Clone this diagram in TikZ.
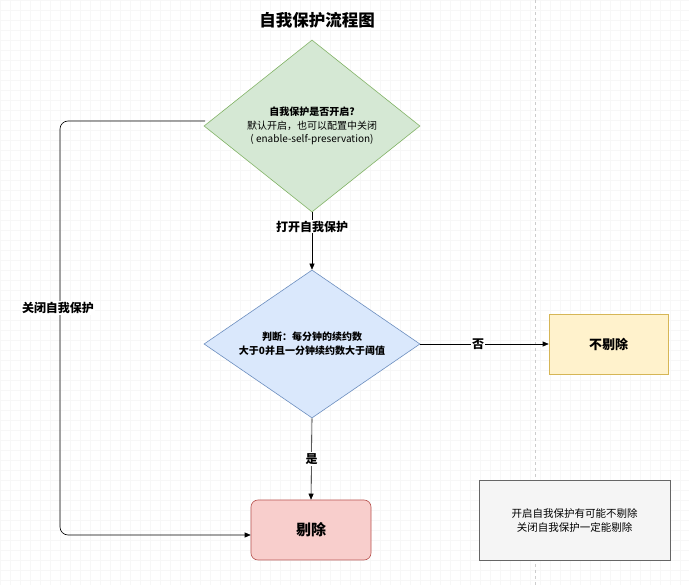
\documentclass[tikz,border=0pt]{standalone}
\usepackage{fontspec}
\setmainfont{Noto Sans CJK SC}
\usetikzlibrary{shapes.geometric,arrows.meta}
\definecolor{gfill}{HTML}{D5E8D4}\definecolor{gline}{HTML}{82B366}
\definecolor{bfill}{HTML}{DAE8FC}\definecolor{bline}{HTML}{6C8EBF}
\definecolor{yfill}{HTML}{FFF2CC}\definecolor{yline}{HTML}{D6B656}
\definecolor{rfill}{HTML}{F8CECC}\definecolor{rline}{HTML}{B85450}
\definecolor{nfill}{HTML}{F5F5F5}\definecolor{nline}{HTML}{666666}
\tikzset{
 dia/.style={diamond,aspect=1.26,inner sep=0pt,align=center,font=\fontsize{10}{13.5}\selectfont,line width=0.6pt},
 box/.style={minimum width=120pt,minimum height=60pt,align=center,line width=0.6pt},
 arr/.style={-{Triangle[length=6pt,width=5pt]},line width=0.6pt},
 lbl/.style={fill=white,font=\fontsize{12}{14}\selectfont\bfseries,inner sep=1pt}
}
\begin{document}
\begin{tikzpicture}[x=1pt,y=-1pt]
\useasboundingbox (0,0) rectangle (689,585);
\fill[white] (0,0) rectangle (689,585);
\foreach \i in {0,10,...,680} \draw[gray!6] (\i,0) -- (\i,585);
\foreach \j in {0,10,...,580} \draw[gray!6] (0,\j) -- (689,\j);
\draw[gray!40,dashed] (535,0) -- (535,585);
\node[font=\fontsize{16.5}{18}\selectfont\bfseries] (t) at (317,20) {自我保护流程图};
\node[dia,draw=gline,fill=gfill,minimum width=216pt,minimum height=172pt] (d1) at (312,126)
 {\textbf{自我保护是否开启?}\\默认开启，也可以配置中关闭\\( enable-self-preservation)};
\node[dia,draw=bline,fill=bfill,minimum width=216pt,minimum height=148pt,font=\fontsize{10}{14}\selectfont\bfseries] (d2) at (312,344)
 {判断：每分钟的续约数\\大于0并且一分钟续约数大于阈值};
\node[box,draw=yline,fill=yfill,minimum width=119pt,font=\fontsize{13}{15}\selectfont\bfseries] (n) at (608.5,344) {不剔除};
\node[box,draw=rline,fill=rfill,rounded corners=7pt,font=\fontsize{15}{17}\selectfont\bfseries] (r) at (311,530) {剔除};
\node[box,draw=nline,fill=nfill,minimum width=191pt,minimum height=80pt,font=\fontsize{10.5}{14}\selectfont] (note) at (574.5,520) {开启自我保护有可能不剔除\\关闭自我保护一定能剔除};
\draw[arr] (d1.south) -- node[lbl,pos=0.25]{打开自我保护} (d2.north);
\draw[arr] (d2.east) -- node[lbl,pos=0.45]{否} (n.west);
\draw[arr] (d2.south) -- node[lbl,pos=0.5]{是} (r.north);
\coordinate (s) at (205,121);
\coordinate (e) at (r.west |- 0,535);
\draw[arr,rounded corners=8pt] (s) -- (60,121) -- (60,535) -- (e);
\node[lbl] (lk) at (58,308) {关闭自我保护};
\end{tikzpicture}
\end{document}
